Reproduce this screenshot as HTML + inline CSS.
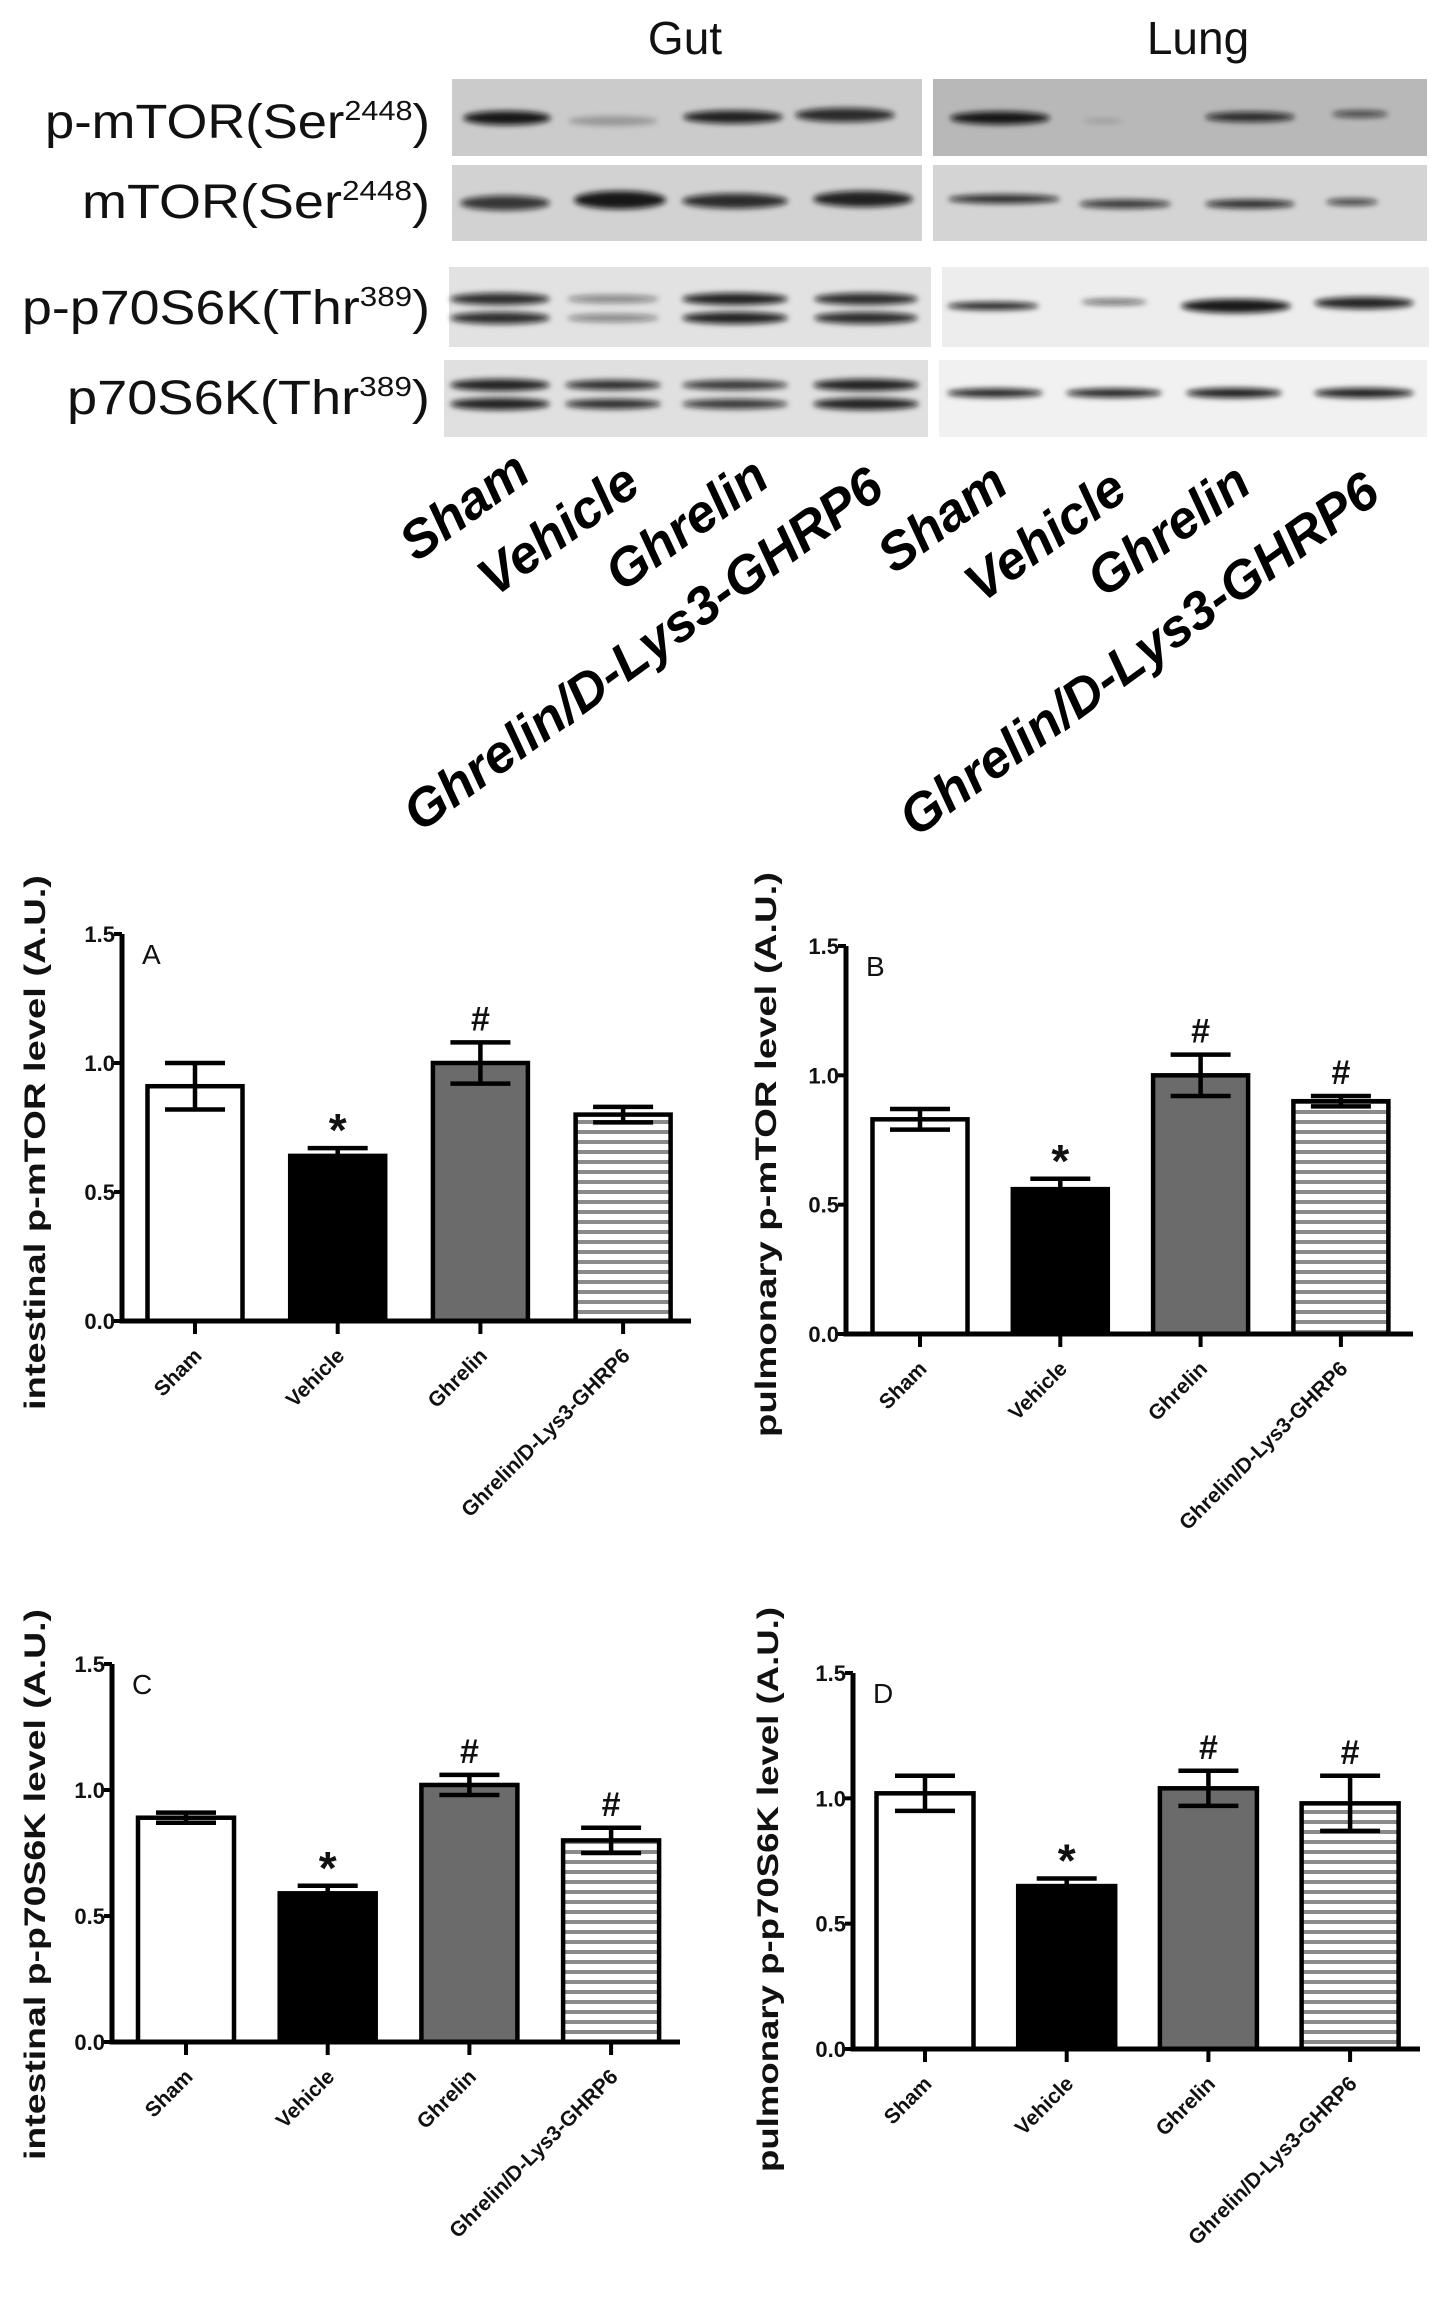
<!DOCTYPE html>
<html><head><meta charset="utf-8">
<style>
html,body{margin:0;padding:0;background:#fff;}
svg{display:block;}
text{font-family:"Liberation Sans",Arial,sans-serif;}
</style></head>
<body>
<svg id="fig" width="1441" height="2320" viewBox="0 0 1441 2320" xmlns="http://www.w3.org/2000/svg">
<defs>
  <filter id="blur3" x="-20%" y="-80%" width="140%" height="260%"><feGaussianBlur stdDeviation="3"/></filter>
  <pattern id="hatch" width="10" height="10" patternUnits="userSpaceOnUse">
    <rect width="10" height="10" fill="#fff"/>
    <rect y="0" width="10" height="4" fill="#8a8a8a"/>
  </pattern>
</defs>
<g id="blots"></g>
<g id="charts"></g>
</svg>
<script>
// ---------- Chart data ----------
const categories = ["Sham","Vehicle","Ghrelin","Ghrelin/D-Lys3-GHRP6"];
const yTicks = [0,0.5,1.0,1.5];
const yTickLabels = ["0.0","0.5","1.0","1.5"];
const valuesA = [0.91,0.64,1.00,0.80];
const errorsA = [0.09,0.03,0.08,0.03];
const marksA = ["","*","#",""];
const valuesB = [0.83,0.56,1.00,0.90];
const errorsB = [0.04,0.04,0.08,0.02];
const marksB = ["","*","#","#"];
const valuesC = [0.89,0.59,1.02,0.80];
const errorsC = [0.02,0.03,0.04,0.05];
const marksC = ["","*","#","#"];
const valuesD = [1.02,0.65,1.04,0.98];
const errorsD = [0.07,0.03,0.07,0.11];
const marksD = ["","*","#","#"];

const NS = "http://www.w3.org/2000/svg";
function mk(tag, attrs, parent){
  const e = document.createElementNS(NS, tag);
  for (const k in attrs) e.setAttribute(k, attrs[k]);
  parent.appendChild(e);
  return e;
}

// ---------- Western blots ----------
const blots = document.getElementById('blots');
function title(txt,x,y,name){
  const t = mk('text',{x:x,y:y,'text-anchor':'middle','font-size':46,fill:'#111'},blots);
  
  
  t.textContent = txt;
}
title('Gut',685,54,'gut-title');
title('Lung',1198,54,'lung-title');

const rowLabels = [
  {main:'p-mTOR(Ser',sup:'2448',y:138,len:385,name:'p-mtor-label'},
  {main:'mTOR(Ser',sup:'2448',y:218,len:348,name:'mtor-label'},
  {main:'p-p70S6K(Thr',sup:'389',y:324,len:408,name:'p-p70s6k-label'},
  {main:'p70S6K(Thr',sup:'389',y:414,len:363,name:'p70s6k-label'}
];
rowLabels.forEach(r=>{
  const t = mk('text',{x:430,y:r.y,'text-anchor':'end','font-size':48,fill:'#111',textLength:r.len,lengthAdjust:'spacingAndGlyphs'},blots);
  
  
  const a = document.createElementNS(NS,'tspan'); a.textContent = r.main; t.appendChild(a);
  const b = document.createElementNS(NS,'tspan'); b.setAttribute('font-size','28'); b.setAttribute('dy','-18'); b.textContent = r.sup; t.appendChild(b);
  const c = document.createElementNS(NS,'tspan'); c.setAttribute('dy','18'); c.textContent = ')'; t.appendChild(c);
});

const panels = [
  {x:452,y:79,w:470,h:77,bg:'#cbcbcb',name:'blot-gut-p-mtor',bands:[[507,118,88,14,0.95],[613,121,90,10,0.25],[733,117,100,13,0.9],[845,115,100,14,0.85]]},
  {x:933,y:79,w:494,h:77,bg:'#b8b8b8',name:'blot-lung-p-mtor',bands:[[1000,118,100,13,0.95],[1103,121,40,5,0.15],[1250,117,90,10,0.85],[1360,114,56,7,0.7]]},
  {x:452,y:165,w:470,h:76,bg:'#d2d2d2',name:'blot-gut-mtor',bands:[[505,203,90,15,0.8],[620,200,92,18,0.95],[735,201,106,15,0.85],[863,199,100,16,0.9]]},
  {x:933,y:165,w:494,h:76,bg:'#d4d4d4',name:'blot-lung-mtor',bands:[[1004,199,112,9,0.85],[1125,204,92,9,0.8],[1250,204,90,9,0.85],[1352,202,52,7,0.75]]},
  {x:449,y:267,w:482,h:80,bg:'#e2e2e2',name:'blot-gut-p-p70s6k',double:true,bands:[[500,299,100,12,0.85],[613,299,92,8,0.45],[735,299,106,12,0.9],[866,299,104,12,0.85]]},
  {x:942,y:267,w:487,h:80,bg:'#ededed',name:'blot-lung-p-p70s6k',bands:[[993,306,92,8,0.9],[1114,302,66,6,0.6],[1236,306,110,14,0.95],[1364,303,100,12,0.9]]},
  {x:444,y:360,w:484,h:77,bg:'#e0e0e0',name:'blot-gut-p70s6k',double:true,bands:[[500,385,100,12,0.9],[613,385,96,10,0.85],[735,385,106,10,0.8],[866,385,106,12,0.9]]},
  {x:939,y:360,w:488,h:77,bg:'#f1f1f1',name:'blot-lung-p70s6k',bands:[[995,393,96,9,0.9],[1114,393,96,9,0.9],[1234,393,96,10,0.92],[1364,393,100,10,0.92]]}
];
panels.forEach(p=>{
  const g = mk('g',{},blots);
  
  
  mk('rect',{x:p.x,y:p.y,width:p.w,height:p.h,fill:p.bg},g);
  p.bands.forEach(b=>{
    const [cx,cy,w,h,o] = b;
    const e = mk('ellipse',{cx:cx,cy:cy,rx:w/2,ry:h/2,fill:'#111','fill-opacity':o,filter:'url(#blur3)'},g);
    
    
    if (p.double){
      const e2 = mk('ellipse',{cx:cx,cy:cy+19,rx:w/2,ry:h/2,fill:'#111','fill-opacity':o,filter:'url(#blur3)'},g);
      
      
    }
  });
});

const laneLabels = [
  ['Sham',533,478,'gut-lane-sham'],['Vehicle',643,490,'gut-lane-vehicle'],['Ghrelin',772,484,'gut-lane-ghrelin'],['Ghrelin/D-Lys3-GHRP6',887,494,'gut-lane-ghrelin-dlys3'],
  ['Sham',1011,490,'lung-lane-sham'],['Vehicle',1130,496,'lung-lane-vehicle'],['Ghrelin',1254,490,'lung-lane-ghrelin'],['Ghrelin/D-Lys3-GHRP6',1383,499,'lung-lane-ghrelin-dlys3']
];
laneLabels.forEach(l=>{
  const t = mk('text',{x:l[1],y:l[2],'text-anchor':'end','font-size':53,'font-weight':'bold','font-style':'italic',fill:'#000',transform:`rotate(-36 ${l[1]} ${l[2]})`},blots);
  
  
  t.textContent = l[0];
});

// ---------- Bar charts ----------
const charts = document.getElementById('charts');
const fills = ['#ffffff','#000000','#6b6b6b','url(#hatch)'];
function drawChart(cfg, values, errors, marks){
  const g = mk('g',{},charts);
  
  
  const yScale = v => cfg.y0 - (v/1.5)*(cfg.y0-cfg.y15);
  const xCenter = i => cfg.bx0 + i*cfg.step;
  values.forEach((v,i)=>{
    const cx = xCenter(i);
    const r = mk('rect',{x:cx-cfg.bw/2,y:yScale(v),width:cfg.bw,height:cfg.y0-yScale(v),fill:fills[i],stroke:'#000','stroke-width':4.5},g);
    
    
    const top = yScale(v+errors[i]), bot = yScale(v-errors[i]);
    const eb = mk('path',{d:`M${cx} ${top}V${bot}M${cx-30} ${top}H${cx+30}M${cx-30} ${bot}H${cx+30}`,stroke:'#000','stroke-width':4.5,fill:'none'},g);
    
    
    if (marks[i]){
      const m = mk('text',{x:cx,y:top - (marks[i]==='*'?2:12),'text-anchor':'middle','font-size':marks[i]==='*'?46:34,'font-weight':'bold',fill:'#111'},g);
      
      
      m.textContent = marks[i];
    }
    const tk = mk('line',{x1:cx,y1:cfg.y0,x2:cx,y2:cfg.y0+13,stroke:'#000','stroke-width':4},g);
    
    
    const lx = cx+8, ly = cfg.y0+36;
    const lab = mk('text',{x:lx,y:ly,'text-anchor':'end','font-size':21,'font-weight':'bold',fill:'#111',transform:`rotate(-45 ${lx} ${ly})`},g);
    
    
    lab.textContent = categories[i];
  });
  const ax = mk('path',{d:`M${cfg.ax} ${cfg.y15}V${cfg.y0}H${cfg.xend}`,stroke:'#000','stroke-width':5,fill:'none'},g);
  
  
  yTicks.forEach((t,i)=>{
    const y = yScale(t);
    const tl = mk('line',{x1:cfg.ax-8,y1:y,x2:cfg.ax,y2:y,stroke:'#000','stroke-width':4},g);
    
    
    const tx = mk('text',{x:cfg.ax-7,y:y+8,'text-anchor':'end','font-size':22,'font-weight':'bold',fill:'#111'},g);
    
    
    tx.textContent = yTickLabels[i];
  });
  const pl = mk('text',{x:cfg.ax+20,y:cfg.y15+30,'font-size':28,fill:'#111'},g);
  
  
  pl.textContent = cfg.letter;
  const yl = mk('text',{x:cfg.ylx,y:cfg.ylb,'text-anchor':'start','font-size':30,'font-weight':'bold',fill:'#111',textLength:cfg.yll,lengthAdjust:'spacingAndGlyphs',transform:`rotate(-90 ${cfg.ylx} ${cfg.ylb})`},g);
  
  
  yl.textContent = cfg.ytitle;
}
drawChart({name:'chart-a-intestinal-p-mtor',letter:'A',ax:122,y0:1321,y15:934,bx0:195,step:142.7,bw:95,xend:691,ylx:45,ylb:1410,yll:535,ytitle:'intestinal p-mTOR level (A.U.)'},valuesA,errorsA,marksA);
drawChart({name:'chart-b-pulmonary-p-mtor',letter:'B',ax:846,y0:1334,y15:946,bx0:920,step:140.3,bw:95,xend:1413,ylx:776,ylb:1437,yll:565,ytitle:'pulmonary p-mTOR level (A.U.)'},valuesB,errorsB,marksB);
drawChart({name:'chart-c-intestinal-p-p70s6k',letter:'C',ax:112,y0:2042,y15:1664,bx0:186,step:141.7,bw:96,xend:680,ylx:45,ylb:2160,yll:551,ytitle:'intestinal p-p70S6K level (A.U.)'},valuesC,errorsC,marksC);
drawChart({name:'chart-d-pulmonary-p-p70s6k',letter:'D',ax:853,y0:2049,y15:1673,bx0:925,step:141.7,bw:97,xend:1420,ylx:778,ylb:2172,yll:565,ytitle:'pulmonary p-p70S6K level (A.U.)'},valuesD,errorsD,marksD);
</script>
</body></html>
